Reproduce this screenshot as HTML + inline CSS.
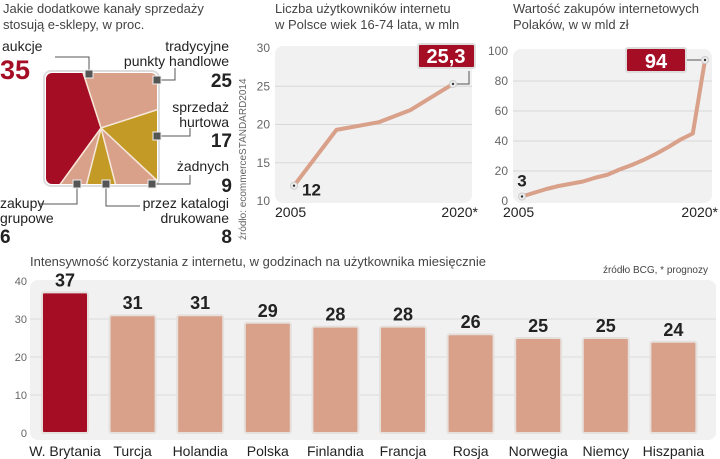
<!DOCTYPE html>
<html><head><meta charset="utf-8"><style>
body{margin:0;width:720px;height:459px;background:#fff;overflow:hidden;font-family:"Liberation Sans","DejaVu Sans",sans-serif}
svg{display:block}
</style></head><body>
<svg width="720" height="459" viewBox="0 0 720 459">
<defs>
<clipPath id="sq"><rect x="46" y="73" width="111" height="111" rx="6"/></clipPath>
</defs>
<g id="pie"></g>
<g id="l1"></g>
<g id="l2"></g>
<g id="bars"></g>
</svg>
<script>
// ---- pie data
const pieLabels=["punkty handlowe","sprzedaż hurtowa","żadnych","przez katalogi","zakupy grupowe","aukcje"];
const pieValues=[25,17,9,8,6,35];
// ---- line 1 data
const l1Years=[2005,2009,2013,2016,2020];
const l1Values=[12,19.3,20.3,21.9,25.3];
const l1Ticks=[10,15,20,25,30];
// ---- line 2 data
const l2Years=[2005,2006,2007,2008,2009,2010,2011,2012,2013,2014,2015,2016,2017,2018,2019,2020];
const l2Values=[3,5.5,8,10,11.5,13,15.5,17.5,21,24,27.5,31.5,36,41,45,94];
const l2Ticks=[0,20,40,60,80,100];
// ---- bars data
const barCats=["W. Brytania","Turcja","Holandia","Polska","Finlandia","Francja","Rosja","Norwegia","Niemcy","Hiszpania"];
const barValues=[37,31,31,29,28,28,26,25,25,24];
const barTicks=[0,10,20,30,40];

const NS="http://www.w3.org/2000/svg";
function mk(parent,tag,attrs,text){const e=document.createElementNS(NS,tag);for(const k in attrs)e.setAttribute(k,attrs[k]);if(text!==undefined)e.textContent=text;parent.appendChild(e);return e;}
function txt(p,x,y,s,size,opt){opt=opt||{};const e=mk(p,'text',{x:x,y:y,'font-size':size,fill:opt.fill||'#222','text-anchor':opt.anchor||'start','font-weight':opt.bold?'bold':'normal','font-family':opt.cond?'"Liberation Sans Narrow","Liberation Sans",sans-serif':'"Liberation Sans",sans-serif'},s);return e;}

// ---------- PIE
const pg=document.getElementById('pie');
let t=txt(pg,3,13,"Jakie dodatkowe kanały sprzedaży",13,{fill:'#444'});
t=txt(pg,3,29,"stosują e-sklepy, w proc.",13,{fill:'#444'});
mk(pg,'rect',{x:44,y:71,width:115,height:115,rx:7,fill:'#fff',stroke:'#ddd','stroke-width':2});
const cg=mk(pg,'g',{'clip-path':'url(#sq)'});
const pieColors=['#d9a08a','#c39a26','#d9a08a','#c39a26','#d9a08a','#a50d25'];
const cx=101,cy=128,R=120;
const total=pieValues.reduce((a,b)=>a+b,0);
let ang=-18;
pieValues.forEach((v,i)=>{
  const a0=ang,a1=ang+v/total*360;ang=a1;
  const p=a=>[cx+R*Math.sin(a*Math.PI/180),cy-R*Math.cos(a*Math.PI/180)];
  const [x0,y0]=p(a0),[x1,y1]=p(a1);
  const e=mk(cg,'path',{d:`M${cx},${cy}L${x0},${y0}A${R},${R} 0 ${a1-a0>180?1:0} 1 ${x1},${y1}Z`,fill:pieColors[i],stroke:'#f6e6d8','stroke-width':1.5});
  
  
});
function marker(x,y){mk(pg,'rect',{x:x-4,y:y-4,width:8,height:8,fill:'#555',stroke:'#eee','stroke-width':1});}
mk(pg,'polyline',{points:'55,57 89,57 89,74',fill:'none',stroke:'#555','stroke-width':1});marker(89,74);
mk(pg,'polyline',{points:'157,80 175,80 175,68',fill:'none',stroke:'#555','stroke-width':1});marker(157,80);
mk(pg,'polyline',{points:'157,136 190,136 190,128',fill:'none',stroke:'#555','stroke-width':1});marker(157,136);
mk(pg,'polyline',{points:'152,184 190,184 190,175',fill:'none',stroke:'#555','stroke-width':1});marker(152,184);
mk(pg,'polyline',{points:'106,184 106,206 140,206',fill:'none',stroke:'#555','stroke-width':1});marker(106,184);
mk(pg,'polyline',{points:'77,184 77,204 40,204',fill:'none',stroke:'#555','stroke-width':1});marker(77,184);
const lbls=[
 ["aukcje",2,51,14,'start',false,'#222'],["35",0,79,27,'start',true,'#a50d25'],
 ["tradycyjne",229,51,14,'end',false],["punkty handlowe",229,66,14,'end',false],["25",232,87,19,'end',true],
 ["sprzedaż",229,112,14,'end',false],["hurtowa",229,127,14,'end',false],["17",232,147,19,'end',true],
 ["żadnych",229,171,14,'end',false],["9",232,192,19,'end',true],
 ["przez katalogi",229,208,14,'end',false],["drukowane",229,223,14,'end',false],["8",232,243,19,'end',true],
 ["zakupy",0,208,14,'start',false],["grupowe",0,223,14,'start',false],["6",0,243,19,'start',true]];
lbls.forEach(l=>{const e=txt(pg,l[1],l[2],l[0],l[3],{anchor:l[4],bold:l[5],fill:l[6]||'#222',cond:l[5]});});

// ---------- LINE CHART helper
function lineChart(g,o){
  mk(g,'rect',{x:o.px0,y:o.py1-2,width:o.px1-o.px0,height:o.py0-o.py1+4,rx:8,fill:'#f1f1f1'});
  const ys=v=>o.py0-(v-o.tmin)/(o.tmax-o.tmin)*(o.py0-o.py1);
  const xs=yr=>o.x0+(yr-o.y0)/(o.y1-o.y0)*(o.x1-o.x0);
  o.ticks.forEach(tk=>{
    if(tk!==o.tmin&&tk!==o.tmax){const e=mk(g,'line',{x1:o.px0,x2:o.px1,y1:ys(tk),y2:ys(tk),stroke:'#d8d8d8','stroke-width':1});}
    const e=txt(g,o.px0-5,ys(tk)+4,String(tk),12,{anchor:'end',fill:'#666'});
  });
  const pts=o.years.map((yr,i)=>xs(yr)+','+ys(o.values[i])).join(' ');
  const pl=mk(g,'polyline',{points:pts,fill:'none',stroke:'#d9a08a','stroke-width':4,'stroke-linejoin':'round','stroke-linecap':'round'});
  
  const n=o.values.length-1;
  [0,n].forEach(i=>{mk(g,'circle',{cx:xs(o.years[i]),cy:ys(o.values[i]),r:3.5,fill:'#eee',stroke:'#ccc'});mk(g,'circle',{cx:xs(o.years[i]),cy:ys(o.values[i]),r:1.2,fill:'#333'});});
  let e=txt(g,xs(o.years[0])-19,o.py0+16,String(o.years[0]),14,{fill:'#222'});
  e=txt(g,o.px1+6,o.py0+16,o.years[n]+'*',14,{anchor:'end',fill:'#222'});
  return {xs,ys};
}
const g1=document.getElementById('l1');
t=txt(g1,275,13,"Liczba użytkowników internetu",13,{fill:'#444'});
t=txt(g1,275,29,"w Polsce wiek 16-74 lata, w mln",13,{fill:'#444'});
const a1=lineChart(g1,{px0:275,px1:472,py0:201,py1:48,tmin:10,tmax:30,ticks:l1Ticks,years:l1Years,values:l1Values,x0:294,x1:453,y0:2005,y1:2020});
t=txt(g1,a1.xs(l1Years[0])+8,a1.ys(l1Values[0])+10,String(l1Values[0]).replace('.',','),17,{bold:true,cond:true});
const ex1=a1.xs(l1Years[l1Years.length-1]),ey1=a1.ys(l1Values[l1Values.length-1]);
mk(g1,'polyline',{points:`${ex1+4},${ey1} ${ex1+16},${ey1} ${ex1+16},${ey1-13}`,fill:'none',stroke:'#555'});
mk(g1,'rect',{x:418,y:44,width:57,height:24,rx:2,fill:'#a50d25',stroke:'#ddd','stroke-width':2});
t=txt(g1,446,63,String(l1Values[l1Values.length-1]).replace('.',','),20,{bold:true,fill:'#fff',anchor:'middle',cond:true});
t=mk(g1,'text',{x:0,y:0,'font-size':10,fill:'#666',transform:'translate(246,240) rotate(-90)','font-family':'"Liberation Sans",sans-serif'},"źródło: ecommerceSTANDARD2014");

const g2=document.getElementById('l2');
t=txt(g2,513,13,"Wartość zakupów internetowych",13,{fill:'#444'});
t=txt(g2,513,29,"Polaków, w w mld zł",13,{fill:'#444'});
const a2=lineChart(g2,{px0:513,px1:712,py0:201,py1:51,tmin:0,tmax:100,ticks:l2Ticks,years:l2Years,values:l2Values,x0:522,x1:705,y0:2005,y1:2020});
t=txt(g2,a2.xs(l2Years[0]),a2.ys(l2Values[0])-10,String(l2Values[0]),17,{bold:true,anchor:'middle',cond:true});
const ey2=a2.ys(l2Values[l2Values.length-1]);
mk(g2,'line',{x1:686,x2:a2.xs(2020)-4,y1:ey2,y2:ey2,stroke:'#555'});
mk(g2,'rect',{x:626,y:ey2-12,width:60,height:24,rx:2,fill:'#a50d25',stroke:'#ddd','stroke-width':2});
t=txt(g2,656,ey2+8,String(l2Values[l2Values.length-1]),20,{bold:true,fill:'#fff',anchor:'middle',cond:true});

// ---------- BARS
const bg=document.getElementById('bars');
t=txt(bg,30,266,"Intensywność korzystania z internetu, w godzinach na użytkownika miesięcznie",13,{fill:'#444'});
t=txt(bg,708,273,"źródło BCG, * prognozy",10,{anchor:'end',fill:'#444'});
mk(bg,'rect',{x:30,y:280,width:686,height:160,rx:8,fill:'#f1f1f1'});
const by=v=>433-v/40*152;
barTicks.forEach(tk=>{
  if(tk>0&&tk<40){const e=mk(bg,'line',{x1:30,x2:716,y1:by(tk),y2:by(tk),stroke:'#dcdcdc'});}
  const e=txt(bg,27,by(tk)+4,String(tk),11,{anchor:'end',fill:'#666'});
});
const pitch=67.6,bw=46;
barCats.forEach((c,i)=>{
  const x=42+i*pitch,v=barValues[i];
  const r=mk(bg,'rect',{x:x,y:by(v),width:bw,height:433-by(v),rx:2,fill:i===0?'#a50d25':'#d9a08a',stroke:'#e6e0dc','stroke-width':2});
  
  
  let e=txt(bg,x+bw/2,by(v)-6,String(v),18,{bold:true,anchor:'middle',cond:true});
  e=txt(bg,x+bw/2,456,c,14,{anchor:'middle',fill:'#222'});
});
</script>
</body></html>
